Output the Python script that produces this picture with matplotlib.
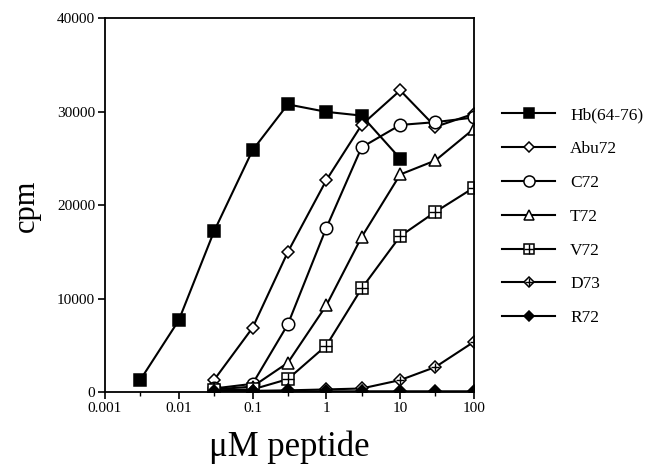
import matplotlib
matplotlib.use("Agg")
import matplotlib.pyplot as plt
from matplotlib.lines import Line2D
import numpy as np

plt.rcParams['font.family'] = ['Liberation Serif', 'DejaVu Serif']

# concentrations (uM)
conc_hb = [0.003, 0.01, 0.03, 0.1, 0.3, 1, 3, 10]
conc = [0.03, 0.1, 0.3, 1, 3, 10, 30, 100]

hb = [1300, 7700, 17200, 25900, 30800, 30000, 29600, 25000]
abu72 = [1300, 6900, 15000, 22700, 28600, 32300, 28400, 29800]
c72 = [400, 900, 7250, 17600, 26200, 28600, 28900, 29400]
t72 = [300, 600, 3150, 9300, 16600, 23300, 24800, 28200]
v72 = [200, 300, 1400, 5000, 11100, 16700, 19300, 21900]
d73 = [100, 150, 200, 300, 400, 1300, 2700, 5400]
r72 = [50, 80, 100, 100, 100, 100, 100, 100]

xtick_vals = [0.001, 0.01, 0.1, 1, 10, 100]
xtick_labels = ["0.001", "0.01", "0.1", "1", "10", "100"]
ytick_vals = [0, 10000, 20000, 30000, 40000]

fig = plt.figure(figsize=(6.52, 4.72), dpi=100)
ax = fig.add_axes([0.161, 0.169, 0.566, 0.792])

lw = 1.5
kw = dict(color='black', lw=lw, mec='black', mew=1.1)

ax.plot(conc_hb, hb, marker='s', ms=8, mfc='black', **kw)
ax.plot(conc, abu72, marker='D', ms=6, mfc='white', **kw)
ax.plot(conc, c72, marker='o', ms=9, mfc='white', **kw)
ax.plot(conc, t72, marker='^', ms=8, mfc='white', **kw)
ax.plot(conc, v72, marker='s', ms=8, mfc='white', **kw)
ax.plot(conc, v72, marker='+', ms=8, ls='none', mec='black', mew=1.0)
ax.plot(conc, d73, marker='D', ms=6, mfc='white', **kw)
ax.plot(conc, d73, marker='+', ms=6, ls='none', mec='black', mew=1.0)
ax.plot(conc, r72, marker='D', ms=6, mfc='black', **kw)

ax.set_xscale('log')
ax.set_xlim(0.001, 100)
ax.set_ylim(0, 40000)
ax.set_xticks(xtick_vals)
ax.set_xticklabels(xtick_labels)
ax.set_xticks([0.003, 0.03, 0.3, 3, 30], minor=True)
ax.set_yticks(ytick_vals)
ax.set_yticklabels([str(v) for v in ytick_vals])
ax.tick_params(axis='both', which='major', direction='out', length=5, width=1.2,
               labelsize=11, pad=2)
ax.tick_params(axis='x', which='minor', direction='out', length=3, width=1.0)
ax.xaxis.set_minor_formatter(plt.NullFormatter())
for s in ax.spines.values():
    s.set_linewidth(1.3)

ax.set_ylabel("cpm", fontsize=22, labelpad=12)
ax.set_xlabel("μM peptide", fontsize=25, labelpad=11)

def h(marker, fc, plus=None, ms=7):
    base = Line2D([], [], color='black', lw=lw, marker=marker, ms=ms, mfc=fc,
                  mec='black', mew=1.1)
    if plus:
        return (base, Line2D([], [], ls='none', marker='+', ms=ms, mec='black', mew=1.0))
    return base

handles = [h('s', 'black'), h('D', 'white', ms=5.5), h('o', 'white', ms=8),
           h('^', 'white'), h('s', 'white', plus=True), h('D', 'white', plus=True, ms=5.5),
           h('D', 'black', ms=5.5)]
labels = ["Hb(64-76)", "Abu72", "C72", "T72", "V72", "D73", "R72"]
fig.legend(handles, labels, loc='upper left', bbox_to_anchor=(0.760, 0.788),
           frameon=False, fontsize=12.5, handlelength=3.0, labelspacing=1.02,
           handletextpad=0.9, borderaxespad=0)

fig.savefig("out.png", dpi=100)
